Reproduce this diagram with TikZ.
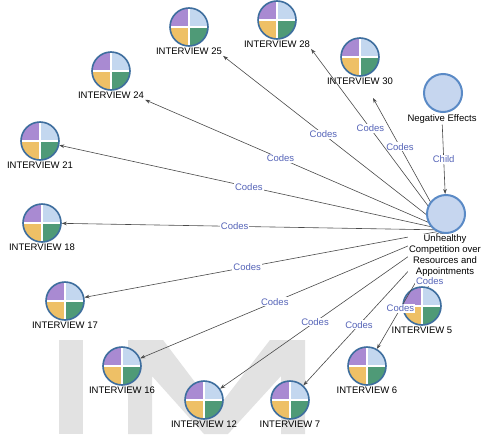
\documentclass[tikz,border=0pt]{standalone}
\usepackage{fontspec}
\setmainfont{Liberation Sans}
\usetikzlibrary{arrows.meta}

\definecolor{rim}{HTML}{3E6E9E}
\definecolor{qpurple}{HTML}{A98AD2}
\definecolor{qblue}{HTML}{C3D7EF}
\definecolor{qyellow}{HTML}{EEC066}
\definecolor{qgreen}{HTML}{4F9A77}
\definecolor{hubfill}{HTML}{C6D6EF}
\definecolor{hubrim}{HTML}{5A8AC6}
\definecolor{codeblue}{HTML}{5564B8}
\definecolor{edgegray}{HTML}{4A4A4A}
\definecolor{wmark}{HTML}{E2E2E2}

\tikzset{
  txt/.style={font=\fontsize{9.5}{11}\selectfont, text=black},
  lbl/.style={txt, inner sep=1pt},
  interview/.style={circle, minimum size=38pt, inner sep=0pt, draw=rim, line width=1.6pt,
    path picture={
      \fill[qpurple] (path picture bounding box.center) rectangle (path picture bounding box.north west);
      \fill[qblue]   (path picture bounding box.center) rectangle (path picture bounding box.north east);
      \fill[qyellow] (path picture bounding box.center) rectangle (path picture bounding box.south west);
      \fill[qgreen]  (path picture bounding box.center) rectangle (path picture bounding box.south east);
      \draw[white, line width=1.6pt] (path picture bounding box.north) -- (path picture bounding box.south)
                                     (path picture bounding box.west) -- (path picture bounding box.east);
    }},
  theme/.style={circle, minimum size=38pt, inner sep=0pt, fill=hubfill, draw=hubrim, line width=2pt},
  edge/.style={draw=edgegray, line width=0.6pt, -{Stealth[length=5pt,width=3.6pt]}},
  codes/.style={font=\fontsize{9.5}{11}\selectfont, text=codeblue, fill=white, inner sep=1pt},
}

\begin{document}
\begin{tikzpicture}[x=1pt,y=-1pt]
\useasboundingbox (0,0) rectangle (486,434);
\fill[white] (0,0) rectangle (486,434);

% large grey lettering at the bottom
\fill[wmark] (59,340) rectangle (83,434);
\fill[wmark] (128,434) -- (128,340) -- (163,340) -- (216,410) -- (270,340) -- (305,340)
  -- (305,434) -- (281,434) -- (281,376) -- (228,434) -- (204,434) -- (152,376) -- (152,434) -- cycle;

% interviews
\node[interview, label={[lbl, name=l25]below:INTERVIEW 25}] (i25) at (189,27) {};
\node[interview, label={[lbl, name=l28]below:INTERVIEW 28}] (i28) at (277,20) {};
\node[interview, label={[lbl, name=l30]below:INTERVIEW 30}] (i30) at (360,57) {};
\node[interview, label={[lbl, name=l24]below:INTERVIEW 24}] (i24) at (111,71) {};
\node[interview, label={[lbl, name=l21]below:INTERVIEW 21}] (i21) at (40,141) {};
\node[interview, label={[lbl, name=l18]below:INTERVIEW 18}] (i18) at (42,223) {};
\node[interview, label={[lbl, name=l17]below:INTERVIEW 17}] (i17) at (65,301) {};
\node[interview, label={[lbl, name=l16]below:INTERVIEW 16}] (i16) at (122,366) {};
\node[interview, label={[lbl, name=l12]below:INTERVIEW 12}] (i12) at (204,400) {};
\node[interview, label={[lbl, name=l7]below:INTERVIEW 7}]   (i7)  at (290,400) {};
\node[interview, label={[lbl, name=l6]below:INTERVIEW 6}]   (i6)  at (367,366) {};
\node[interview, label={[lbl, name=l5]below:INTERVIEW 5}]   (i5)  at (422,306) {};

% the coding links all spring from behind the main theme
\coordinate (hub) at (446,230);
\coordinate (t30) at (373,98);

\draw[edge] (hub) -- node[codes, pos=0.63]{Codes} (t30);
\draw[edge] (hub) -- node[codes, pos=0.56]{Codes} (l28.south east);
\draw[edge] (hub) -- node[codes, pos=0.55]{Codes} (l25.south east);
\draw[edge] (hub) -- node[codes, pos=0.55]{Codes} (l24.south east);
\draw[edge] (hub) -- node[codes, pos=0.51]{Codes} (i21);
\draw[edge] (hub) -- node[codes, pos=0.55]{Codes} (i18);
\draw[edge] (hub) -- node[codes, pos=0.55]{Codes} (i17);
\draw[edge] (hub) -- node[codes, pos=0.56]{Codes} (i16);
\draw[edge] (hub) -- node[codes, pos=0.58]{Codes} (i12);
\draw[edge] (hub) -- node[codes, pos=0.61]{Codes} (i7);
\draw[edge] (hub) -- node[codes, pos=0.66]{Codes} (i6);
\draw[edge] (hub) -- node[codes, pos=0.9]{Codes} (i5);

% themes
\node[theme] (neg) at (443,93) {};
\node[lbl] (negl) at (442,119) {Negative Effects};
\node[theme] (main) at (446,214) {};
\node[lbl, align=center, fill=white] (mainl) at (445,255.5) {Unhealthy\\Competition over\\Resources and\\Appointments};

% child link
\draw[edge] (negl) -- node[codes]{Child} (main);
\end{tikzpicture}
\end{document}
